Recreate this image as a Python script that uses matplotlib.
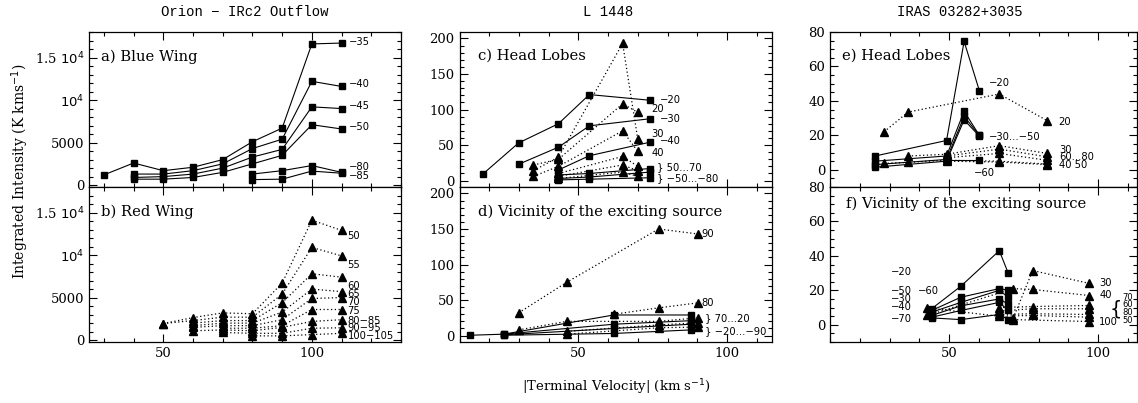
import matplotlib
matplotlib.use("Agg")
import matplotlib.pyplot as plt
from matplotlib.ticker import MultipleLocator, FixedLocator, FixedFormatter

# a) Orion blue wing, solid squares; every channel ends at 110 km/s
a_v = [30, 40, 50, 60, 70, 80, 90, 100, 110]
a_m35 = [1200, 2600, 1700, 2100, 3000, 5100, 6700, 16600, 16700]
a_m40 = [1300, 1300, 1700, 2500, 4300, 5400, 12200, 11600]
a_m45 = [900, 1000, 1300, 2000, 3300, 4200, 9200, 9000]
a_m50 = [700, 700, 900, 1500, 2500, 3500, 7100, 6600]
a_m80 = [1300, 1700, 2300, 1500]
a_m85 = [650, 700, 1650, 1400]

# b) Orion red wing, dotted triangles
b_v = [50, 60, 70, 80, 90, 100, 110]
b_p50 = [1950, 2650, 3200, 3100, 6700, 14100, 12900]
b_p55 = [1950, 2300, 2700, 2700, 5400, 10900, 9900]
b_p60 = [2000, 2300, 2300, 4400, 7800, 7400]
b_p65 = [1700, 2000, 2000, 3300, 6000, 5700]
b_p70 = [1500, 1700, 1700, 2400, 4900, 5000]
b_p75 = [1400, 1400, 1700, 3600, 3600]
b_p80 = [1100, 1200, 1100, 1500, 2200, 2400]
b_p90 = [900, 800, 800, 1400, 1450]
b_p100 = [500, 500, 650, 800]

# c) L1448 head lobes
c_m20_v = [17.8, 29.9, 43.3, 53.7, 74.1]
c_m20 = [9, 53, 80, 121, 113]
c_m30_v = [29.9, 43.3, 53.7, 74.1]
c_m30 = [23, 47, 77, 87]
c_low_v = [43.3, 53.7, 74.1]
c_m40 = [15, 35, 54]
c_m50 = [8, 10, 17]
c_m60 = [3, 5, 12]
c_m80 = [1, 2, 4]
c_tri_v = [34.9, 43.3, 64.9, 70.0]
c_p20 = [22, 30, 108, 96]
c_p30 = [14, 33, 193, 58]
c_p40 = [6, 20, 70, 41]
c_hi_v = [43.3, 64.9, 70.0]
c_p50 = [10, 34, 20]
c_p60 = [6, 22, 14]
c_p70 = [3, 12, 6]

# d) L1448 vicinity of the exciting source
d_sq_v = [13.6, 24.9, 61.9, 87.9]
d_s1 = [0.5, 2, 29, 29]
d_s2 = [2, 16, 21]
d_s3 = [1, 10, 16]
d_s4 = [0.5, 3, 8]
d_tri_v = [29.9, 46.1, 77.0, 90.1]
d_p90 = [32, 75, 150, 143]
d_p80_v = [61.9, 77.0, 90.1]
d_p80 = [30, 39, 46]
d_p70 = [8, 20, 20, 25]
d_p40 = [6, 15, 18]
d_p20 = [2, 11, 12]

# e) IRAS 03282 head lobes
e_sq_v = [25.1, 49.1, 55.0, 60.1]
e_m20 = [8, 17, 74.5, 46]
e_m30 = [5, 8, 34, 20]
e_m40 = [3, 6, 31, 20]
e_m50 = [1.5, 5, 29, 19.5]
e_m60_v = [49.1, 60.1]
e_m60 = [5.5, 5.5]
e_p20_v = [28.1, 36.2, 66.8, 82.9]
e_p20 = [22, 33.5, 44, 28.5]
e_tri_v = [28.1, 36.2, 49.1, 66.8, 82.9]
e_p30 = [8, 9, 14, 9.5]
e_p60 = [8, 12, 7.5]
e_p80 = [7, 9.5, 5.5]
e_p40 = [3.7, 4.3, 5.5, 5, 3.3]
e_p50 = [5, 4.5, 3]

# f) IRAS 03282 vicinity of the exciting source
f_sq_v = [44.1, 53.9, 66.8, 69.8]
f_m20 = [9.3, 22.4, 43, 30]
f_m50 = [8.3, 16, 21, 20]
f_m30 = [7.3, 13, 20, 16]
f_m40 = [5.4, 11, 15, 12]
f_m60 = [4.4, 8.3, 13, 8.3]
f_m70 = [4, 3, 6, 3]
f_tri_v = [42.6, 71.5, 78.0, 97.0]
f_p30 = [9.8, 4, 31.5, 24]
f_p40 = [5.4, 21, 20.5, 17]
f_mid_v = [66.8, 78.0, 97.0]
f_p70 = [10, 10.6, 11.2]
f_p60 = [8, 9.3, 9.3]
f_p80 = [6, 6.4, 6]
f_p50 = [5, 5.4, 4.4]
f_p100_v = [71.5, 97.0]
f_p100 = [3, 1.9]

SERIF = "DejaVu Serif"
SANS = "DejaVu Sans"
LAB = dict(fontsize=7.2, family=SANS, va="center", ha="left")
PFS = 10.6


def sq(ax, x, y):
    ax.plot(x, y, "-", color="k", lw=0.8, marker="s", ms=5, mfc="k", mec="k")


def tri(ax, x, y):
    ax.plot(x, y, linestyle=(0, (1, 2)), color="k", lw=0.9,
            marker="^", ms=5.5, mfc="k", mec="k")


def tail(v, y):
    return v[-len(y):]


fig = plt.figure(figsize=(11.38, 4.03), dpi=100)
W, H = 1138.0, 403.0


def box(x0, y0, x1, y1):
    return [x0 / W, 1 - y1 / H, (x1 - x0) / W, (y1 - y0) / H]


ax_a = fig.add_axes(box(89, 32, 401, 187))
ax_b = fig.add_axes(box(89, 187, 401, 342))
ax_c = fig.add_axes(box(459.5, 32, 771.5, 187))
ax_d = fig.add_axes(box(459.5, 187, 771.5, 342))
ax_e = fig.add_axes(box(830, 32, 1137, 187))
ax_f = fig.add_axes(box(830, 187, 1137, 342))
axes = (ax_a, ax_b, ax_c, ax_d, ax_e, ax_f)

for ax in axes:
    ax.tick_params(which="both", direction="in", top=True, right=True, width=0.8)
    ax.tick_params(which="major", length=6)
    ax.tick_params(which="minor", length=3)
    ax.xaxis.set_major_locator(MultipleLocator(50))
    ax.xaxis.set_minor_locator(MultipleLocator(10))
    for s in ax.spines.values():
        s.set_linewidth(0.9)

for ax in (ax_a, ax_c, ax_e):
    ax.tick_params(labelbottom=False)

# left column
for ax in (ax_a, ax_b):
    ax.set_xlim(25, 130)
    ax.set_ylim(-220, 18000)
    ax.yaxis.set_major_locator(FixedLocator([0, 5000, 10000, 15000]))
    ax.yaxis.set_major_formatter(FixedFormatter(["0", "5000", r"$10^4$", r"1.5 $10^4$"]))
    ax.yaxis.set_minor_locator(MultipleLocator(1000))

for ax in (ax_c, ax_d):
    ax.set_xlim(10, 115)
    ax.set_ylim(-9, 209)
    ax.yaxis.set_major_locator(MultipleLocator(50))
    ax.yaxis.set_minor_locator(MultipleLocator(10))

for ax in (ax_e, ax_f):
    ax.set_xlim(10, 113)
    ax.set_ylim(-10, 80)
    ax.yaxis.set_major_locator(MultipleLocator(20))
    ax.yaxis.set_minor_locator(MultipleLocator(5))

for ax in axes:
    for t in ax.get_xticklabels() + ax.get_yticklabels():
        t.set_family(SERIF)
        t.set_fontsize(9.5)

# panel a
for y in (a_m35, a_m40, a_m45, a_m50, a_m80, a_m85):
    sq(ax_a, tail(a_v, y), y)
for txt, y in (("−35", 16800), ("−40", 11850), ("−45", 9280), ("−50", 6830),
               ("−80", 2150), ("−85", 1100)):
    ax_a.text(112.3, y, txt, **LAB)
ax_a.text(0.04, 0.84, "a) Blue Wing", transform=ax_a.transAxes,
          family=SERIF, fontsize=PFS, va="center")

# panel b
for y in (b_p50, b_p55, b_p60, b_p65, b_p70, b_p75, b_p80, b_p90, b_p100):
    tri(ax_b, tail(b_v, y), y)
for txt, y in (("50", 12200), ("55", 8800), ("60", 6400), ("65", 5400),
               ("70", 4500), ("75", 3400), ("80−85", 2300), ("90−95", 1400),
               ("100−105", 500)):
    ax_b.text(112.0, y, txt, **LAB)
ax_b.text(0.04, 0.84, "b) Red Wing", transform=ax_b.transAxes,
          family=SERIF, fontsize=PFS, va="center")

# panel c
sq(ax_c, c_m20_v, c_m20)
sq(ax_c, c_m30_v, c_m30)
for y in (c_m40, c_m50, c_m60, c_m80):
    sq(ax_c, c_low_v, y)
for y in (c_p20, c_p30, c_p40):
    tri(ax_c, c_tri_v, y)
for y in (c_p50, c_p60, c_p70):
    tri(ax_c, c_hi_v, y)
for txt, x, y in (("−20", 77.5, 114), ("20", 74.5, 101), ("−30", 77.5, 87),
                  ("30", 74.5, 65), ("−40", 77.5, 56), ("40", 74.5, 39),
                  ("} 50...70", 76.5, 19), ("} −50...−80", 76.5, 4)):
    ax_c.text(x, y, txt, **LAB)
ax_c.text(0.06, 0.845, "c) Head Lobes", transform=ax_c.transAxes,
          family=SERIF, fontsize=PFS, va="center")

# panel d
sq(ax_d, d_sq_v, d_s1)
for y in (d_s2, d_s3, d_s4):
    sq(ax_d, tail(d_sq_v, y), y)
tri(ax_d, d_tri_v, d_p90)
tri(ax_d, d_p80_v, d_p80)
tri(ax_d, d_tri_v, d_p70)
for y in (d_p40, d_p20):
    tri(ax_d, tail(d_tri_v, y), y)
for txt, x, y in (("90", 91.5, 143), ("80", 91.5, 46),
                  ("} 70...20", 92.5, 24), ("} −20...−90", 92.5, 6)):
    ax_d.text(x, y, txt, **LAB)
ax_d.text(0.06, 0.84, "d) Vicinity of the exciting source",
          transform=ax_d.transAxes, family=SERIF, fontsize=PFS, va="center")

# panel e
for y in (e_m20, e_m30, e_m40, e_m50):
    sq(ax_e, e_sq_v, y)
sq(ax_e, e_m60_v, e_m60)
tri(ax_e, e_p20_v, e_p20)
for y in (e_p30, e_p60, e_p80, e_p40, e_p50):
    tri(ax_e, tail(e_tri_v, y), y)
for txt, x, y in (("−20", 63.2, 50.5), ("20", 86.6, 28), ("−30...−50", 63.2, 19.2),
                  ("−60", 58.2, -2), ("30", 86.8, 11.7), ("60...80", 86.8, 7.2),
                  ("40 50", 86.8, 2.7)):
    ax_e.text(x, y, txt, **LAB)
ax_e.text(0.04, 0.845, "e) Head Lobes", transform=ax_e.transAxes,
          family=SERIF, fontsize=PFS, va="center")

# panel f
for y in (f_m20, f_m50, f_m30, f_m40, f_m60, f_m70):
    sq(ax_f, f_sq_v, y)
for y in (f_p30, f_p40):
    tri(ax_f, f_tri_v, y)
for y in (f_p70, f_p60, f_p80, f_p50):
    tri(ax_f, f_mid_v, y)
tri(ax_f, f_p100_v, f_p100)
for txt, x, y in (("−20", 30.5, 30.5), ("−50", 30.5, 19.5), ("−60", 39.6, 19.5),
                  ("−30", 30.5, 15), ("−40", 30.5, 10.3), ("−70", 30.5, 3.5),
                  ("30", 100.5, 24), ("40", 100.5, 17), ("100", 100.2, 1.5)):
    ax_f.text(x, y, txt, **LAB)
for txt, y in (("70", 16), ("60", 11.5), ("80", 7), ("50", 2.5)):
    ax_f.text(108.0, y, txt, fontsize=6, family=SANS, va="center", ha="left")
ax_f.text(107.9, 9, "{", family=SANS, fontsize=14, va="center", ha="right")
ax_f.text(0.052, 0.89, "f) Vicinity of the exciting source",
          transform=ax_f.transAxes, family=SERIF, fontsize=PFS, va="center")

# titles and axis labels
fig.text(245 / W, 1 - 12 / H, "Orion − IRc2 Outflow", family="Liberation Mono",
         fontsize=10, ha="center", va="center")
fig.text(608 / W, 1 - 12 / H, "L 1448", family="Liberation Mono",
         fontsize=10, ha="center", va="center")
fig.text(960 / W, 1 - 12 / H, "IRAS 03282+3035", family="Liberation Mono",
         fontsize=10, ha="center", va="center")
fig.text(20 / W, 1 - 171 / H, r"Integrated Intensity (K kms$^{-1}$)",
         family=SERIF, fontsize=10, rotation=90, ha="center", va="center")
fig.text(616 / W, 1 - 387 / H, r"|Terminal Velocity| (km s$^{-1}$)",
         family=SERIF, fontsize=9.5, ha="center", va="center")

fig.savefig("out.png", dpi=100)
